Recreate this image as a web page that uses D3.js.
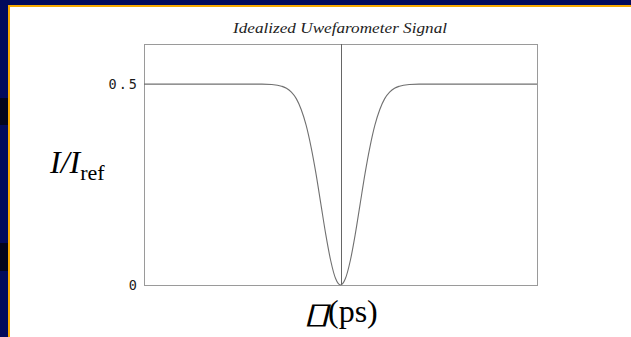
<!DOCTYPE html>
<html>
<head>
<meta charset="utf-8">
<script src="https://cdn.jsdelivr.net/npm/d3@7"></script>
<style>
  html, body { margin: 0; padding: 0; background: #fff; }
  svg { display: block; }
</style>
</head>
<body>
<svg id="chart" width="631" height="337"></svg>
<script>
// Delay (ps) and normalized intensity of the idealized signal
const delay = [-10, -4, -3.5, -3, -2.75, -2.5, -2.25, -2, -1.75, -1.5, -1.25, -1, -0.75, -0.5, -0.25, 0,
               0.25, 0.5, 0.75, 1, 1.25, 1.5, 1.75, 2, 2.25, 2.5, 2.75, 3, 3.5, 4, 10];
const intensity = [0.5, 0.5, 0.499, 0.495, 0.49, 0.48, 0.464, 0.437, 0.398, 0.344, 0.278, 0.202, 0.126, 0.061, 0.016, 0,
                   0.016, 0.061, 0.126, 0.202, 0.278, 0.344, 0.398, 0.437, 0.464, 0.48, 0.49, 0.495, 0.499, 0.5, 0.5];
const yTicks = [0, 0.5];
const yTickLabels = ["0", "0.5"];
const titleText = "Idealized Uwefarometer Signal";

const svg = d3.select("#chart");

// slide-style background border
svg.append("rect").attr("x", 0).attr("y", 0).attr("width", 631).attr("height", 337).attr("fill", "#020a5c");
svg.append("rect").attr("x", 0).attr("y", 98).attr("width", 8).attr("height", 27).attr("fill", "#03041c");
svg.append("rect").attr("x", 0).attr("y", 243).attr("width", 8).attr("height", 28).attr("fill", "#03041c");
svg.append("rect").attr("x", 8).attr("y", 5).attr("width", 623).attr("height", 332).attr("fill", "#f7a900");
svg.append("rect").attr("x", 10).attr("y", 7).attr("width", 621).attr("height", 330).attr("fill", "#ffffff");

const plot = { left: 144, top: 44, right: 537, bottom: 285 };

const x = d3.scaleLinear().domain([-10, 10]).range([plot.left, plot.right]);
const y = d3.scaleLinear().domain([0, 0.6]).range([plot.bottom, plot.top]);

// title
svg.append("text")
  .attr("x", 340).attr("y", 33)
  .attr("text-anchor", "middle")
  .attr("font-family", "Liberation Serif, serif")
  .attr("font-style", "italic")
  .attr("font-size", 15)
  .attr("fill", "#222")
  .attr("textLength", 214)
  .attr("lengthAdjust", "spacingAndGlyphs")
  .text(titleText);

// frame
svg.append("rect")
  .attr("x", plot.left + 0.5).attr("y", plot.top + 0.5)
  .attr("width", plot.right - plot.left).attr("height", plot.bottom - plot.top)
  .attr("fill", "none").attr("stroke", "#9a9a9a").attr("stroke-width", 1);

// zero-delay marker
svg.append("line")
  .attr("x1", Math.round(x(0)) + 0.5).attr("x2", Math.round(x(0)) + 0.5)
  .attr("y1", plot.top).attr("y2", plot.bottom)
  .attr("stroke", "#666").attr("stroke-width", 1);

// y axis tick labels
const yAxis = d3.axisLeft(y)
  .tickValues(yTicks)
  .tickSize(0)
  .tickPadding(5)
  .tickFormat((d, i) => yTickLabels[i]);
const ya = svg.append("g").attr("transform", `translate(${plot.left},0)`).call(yAxis);
ya.select(".domain").remove();
ya.selectAll("text")
  .attr("font-family", "DejaVu Sans Mono, monospace")
  .attr("font-size", 13.5)
  .attr("letter-spacing", 2)
  .attr("fill", "#1a1a1a");

// signal curve
const pts = delay.map((d, i) => [d, intensity[i]]);
const line = d3.line()
  .x(d => x(d[0]))
  .y(d => y(d[1]))
  .curve(d3.curveMonotoneX);
svg.append("path")
  .datum(pts)
  .attr("d", line)
  .attr("fill", "none")
  .attr("stroke", "#707070")
  .attr("stroke-width", 1.1);

// y axis label I/I_ref
const yl = svg.append("text")
  .attr("x", 50).attr("y", 173)
  .attr("font-family", "Liberation Serif, serif")
  .attr("font-size", 32)
  .attr("fill", "#000");
yl.append("tspan").attr("font-style", "italic").text("I/I");
yl.append("tspan").attr("font-size", 22).attr("dy", 7).text("ref");

// x axis label: delay symbol followed by unit
svg.append("text")
  .attr("transform", "translate(303,323) skewX(-14) scale(1.75,1)")
  .attr("font-family", "DejaVu Sans, sans-serif")
  .attr("font-size", 29)
  .attr("fill", "#000")
  .text("▯");
svg.append("text")
  .attr("x", 328).attr("y", 322)
  .attr("font-family", "Liberation Serif, serif")
  .attr("font-size", 32)
  .attr("fill", "#000")
  .text("(ps)");
</script>
</body>
</html>
